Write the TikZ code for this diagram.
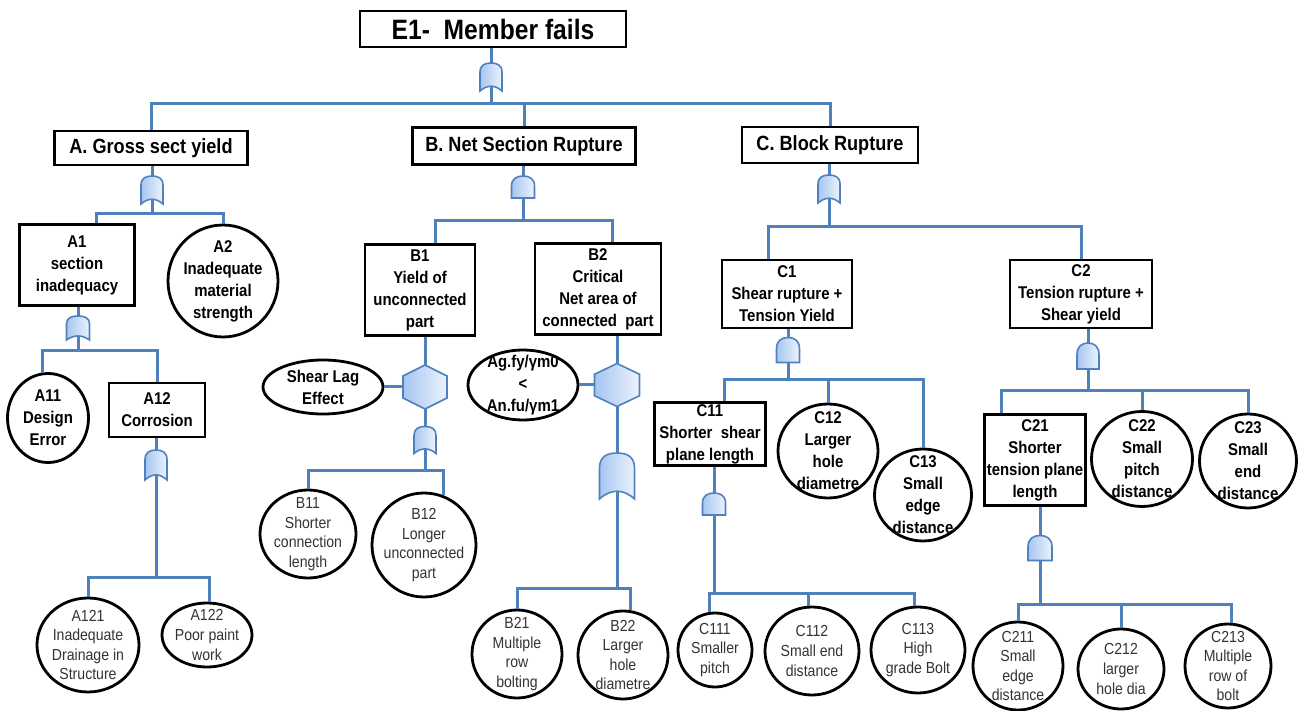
\documentclass[tikz,border=0pt]{standalone}
\usepackage{fontspec}
\setmainfont{Liberation Sans}[FakeStretch=0.88]
\usetikzlibrary{shapes.geometric}

\definecolor{cblue}{RGB}{79,129,189}
\definecolor{gdark}{RGB}{166,198,240}
\definecolor{glight}{RGB}{236,243,253}

\tikzset{
  conn/.style={draw=cblue, line width=1.5pt},
  gate/.style={draw=cblue, line width=0.8pt, left color=gdark, right color=glight},
  head/.style={draw, line width=1.4pt, rectangle, inner sep=0pt,
    font=\bfseries\fontsize{10.3}{12}\selectfont},
  evbox/.style={draw, line width=1.4pt, rectangle, inner sep=0pt, align=center,
    font=\bfseries\fontsize{8.5}{11}\selectfont},
  boldtxt/.style={align=center, inner sep=0pt, font=\bfseries\fontsize{8.5}{11}\selectfont},
  leaftxt/.style={align=center, inner sep=0pt, text=black!80, font=\fontsize{8}{9.8}\selectfont},
  evcirc/.style={draw, line width=1.4pt, ellipse, inner sep=0pt, label={[boldtxt]center:{#1}}},
  leaf/.style={draw, line width=1.4pt, ellipse, inner sep=0pt, label={[leaftxt]center:{#1}}},
  % OR gate: rounded top, concave bottom; #1 half width, #2 half height
  pics/orgate/.style 2 args={code={
    \path[gate] (-#1,#2) -- (-#1,-0.35*#2)
      .. controls (-#1,-0.85*#2) and (-0.55*#1,-#2) .. (0,-#2)
      .. controls (0.55*#1,-#2) and (#1,-0.85*#2) .. (#1,-0.35*#2)
      -- (#1,#2) .. controls (0.35*#1,0.55*#2) and (-0.35*#1,0.55*#2) .. (-#1,#2) -- cycle;
    \coordinate (-top) at (0,-#2);
    \coordinate (-bot) at (0,0.66*#2);
  }},
  % AND gate: dome top, flat bottom
  pics/andgate/.style 2 args={code={
    \path[gate] (-#1,#2) -- (-#1,-0.1*#2)
      .. controls (-#1,-0.75*#2) and (-0.55*#1,-#2) .. (0,-#2)
      .. controls (0.55*#1,-#2) and (#1,-0.75*#2) .. (#1,-0.1*#2)
      -- (#1,#2) -- cycle;
    \coordinate (-top) at (0,-#2);
    \coordinate (-bot) at (0,#2);
  }},
  % inhibit gate: hexagon with pointed top and bottom
  pics/hexgate/.style 2 args={code={
    \path[gate] (0,-#2) -- (#1,-0.5*#2) -- (#1,0.5*#2) -- (0,#2)
      -- (-#1,0.5*#2) -- (-#1,-0.5*#2) -- cycle;
    \coordinate (-top) at (0,-#2);
    \coordinate (-bot) at (0,#2);
    \coordinate (-west) at (-#1,0);
    \coordinate (-east) at (#1,0);
  }},
}

\begin{document}
\begin{tikzpicture}[x=0.5pt, y=-0.5pt]
\useasboundingbox (0,0) rectangle (1302,711);

% ---------- events ----------
\node[head, minimum width=133pt, minimum height=18pt,
      font=\bfseries\fontsize{14}{16}\selectfont] (E1) at (493,29) {E1-~ Member fails};
\node[head, minimum width=96.5pt, minimum height=17pt] (A) at (151,148) {A. Gross sect yield};
\node[head, minimum width=111.5pt, minimum height=18.5pt] (B) at (524,146) {B. Net Section Rupture};
\node[head, minimum width=88pt, minimum height=18pt] (C) at (830,145) {C. Block Rupture};

% A branch
\node[evbox, minimum width=57.5pt, minimum height=40.5pt] (A1) at (77,265) {A1\\section\\inadequacy};
\node[evcirc={A2\\Inadequate\\material\\strength}, minimum width=55pt, minimum height=56pt] (A2) at (223,281) {};
\node[evcirc={A11\\Design\\Error}, minimum width=40.5pt, minimum height=44.5pt] (A11) at (48,418) {};
\node[evbox, minimum width=48pt, minimum height=27pt] (A12) at (157,410) {A12\\Corrosion};
\node[leaf={A121\\Inadequate\\Drainage in\\Structure}, minimum width=51pt, minimum height=47pt] (A121) at (88,645) {};
\node[leaf={A122\\Poor paint\\work}, minimum width=45pt, minimum height=32pt] (A122) at (207,635) {};

% B branch
\node[evbox, minimum width=55pt, minimum height=45.5pt] (B1) at (420,290) {B1\\Yield of\\unconnected\\part};
\node[evbox, minimum width=63pt, minimum height=45.5pt] (B2) at (598,289) {B2\\Critical\\Net area of\\connected~ part};
\node[evcirc={Shear Lag\\Effect}, minimum width=60pt, minimum height=27pt] (SL) at (323,387) {};
\node[evcirc={Ag.fy/γm0\\<\\An.fu/γm1}, minimum width=55pt, minimum height=35pt] (AG) at (523,385) {};
\node[leaf={B11\\Shorter\\connection\\length}, minimum width=48pt, minimum height=44pt] (B11) at (308,534) {};
\node[leaf={B12\\Longer\\unconnected\\part}, minimum width=52pt, minimum height=52pt] (B12) at (424,545) {};
\node[leaf={B21\\Multiple\\row\\bolting}, minimum width=45pt, minimum height=44pt] (B21) at (517,654) {};
\node[leaf={B22\\Larger\\hole\\diametre}, minimum width=45pt, minimum height=44pt] (B22) at (623,655) {};

% C branch
\node[evbox, minimum width=65pt, minimum height=34pt] (C1) at (787,294) {C1\\Shear rupture +\\Tension Yield};
\node[evbox, minimum width=71pt, minimum height=34pt] (C2) at (1081,294) {C2\\Tension rupture +\\Shear yield};
\node[evbox, minimum width=55.5pt, minimum height=31.5pt] (C11) at (710,434) {C11\\Shorter~ shear\\plane length};
\node[evcirc={C12\\Larger\\hole\\diametre}, minimum width=50pt, minimum height=47pt] (C12) at (828,451) {};
\node[evcirc={C13\\Small\\edge\\distance}, minimum width=48.5pt, minimum height=46pt] (C13) at (923,495) {};
\node[leaf={C111\\Smaller\\pitch}, minimum width=37pt, minimum height=37pt] (C111) at (715,650) {};
\node[leaf={C112\\Small end\\distance}, minimum width=47pt, minimum height=44pt] (C112) at (812,651) {};
\node[leaf={C113\\High\\grade Bolt}, minimum width=47pt, minimum height=43pt] (C113) at (918,650) {};
\node[evbox, minimum width=50.5pt, minimum height=45.5pt] (C21) at (1035,460) {C21\\Shorter\\tension plane\\length};
\node[evcirc={C22\\Small\\pitch\\distance}, minimum width=50.5pt, minimum height=47.5pt] (C22) at (1142,459) {};
\node[evcirc={C23\\Small\\end\\distance}, minimum width=48.5pt, minimum height=47pt] (C23) at (1248,461) {};
\node[leaf={C211\\Small\\edge\\distance}, minimum width=45pt, minimum height=44pt] (C211) at (1018,666) {};
\node[leaf={C212\\larger\\hole dia}, minimum width=43pt, minimum height=40pt] (C212) at (1121,669) {};
\node[leaf={C213\\Multiple\\row of\\bolt}, minimum width=43pt, minimum height=42pt] (C213) at (1228,666) {};

% ---------- gates ----------
\pic (g0)   at (491,77)  {orgate={11}{14}};
\pic (gA)   at (152,190) {orgate={11}{14}};
\pic (gA1)  at (78,328)  {orgate={11.5}{12}};
\pic (gA12) at (156,465) {orgate={11}{15}};
\pic (gB)   at (523,187) {andgate={11.5}{11}};
\pic (hB1)  at (425,387) {hexgate={22}{22}};
\pic (gB1)  at (425,440) {orgate={11}{13.5}};
\pic (hB2)  at (617,385) {hexgate={22.5}{21.5}};
\pic (gB2)  at (617,476) {orgate={17.5}{23}};
\pic (gC)   at (829,189) {orgate={11}{14}};
\pic (gC1)  at (788,350) {andgate={11.5}{12.5}};
\pic (gC11) at (714,504) {andgate={11.5}{11}};
\pic (gC2)  at (1088,356) {andgate={11}{13}};
\pic (gC21) at (1040,548) {andgate={12}{12.5}};

% ---------- bus levels ----------
\coordinate (yE)   at (0,104);
\coordinate (yA)   at (0,214);
\coordinate (yA1)  at (0,351);
\coordinate (yA12) at (0,577);
\coordinate (yB)   at (0,221);
\coordinate (yB1)  at (0,470);
\coordinate (yB2)  at (0,588);
\coordinate (yC)   at (0,227);
\coordinate (yC1)  at (0,380);
\coordinate (yC11) at (0,593);
\coordinate (yC2)  at (0,391);
\coordinate (yC21) at (0,604);

% entry points off the box centres
\coordinate (A1in)  at ([xshift=9.5pt]A1.north);
\coordinate (B1in)  at ([xshift=7.5pt]B1.north);
\coordinate (B2in)  at ([xshift=7pt]B2.north);
\coordinate (C1in)  at ([xshift=-9.5pt]C1.north);
\coordinate (C11in) at ([xshift=7pt]C11.north);
\coordinate (C21in) at ([xshift=-17pt]C21.north);

% ---------- connectors ----------
% top event
\draw[conn] (g0-top |- E1.south) -- (g0-top);
\draw[conn] (g0-bot) |- (A.north |- yE) -- (A.north);
\draw[conn] (g0-bot) |- (B.north |- yE) -- (B.north);
\draw[conn] (g0-bot) |- (C.north |- yE) -- (C.north);

% A
\draw[conn] (gA-top |- A.south) -- (gA-top);
\draw[conn] (gA-bot) |- (A1in |- yA) -- (A1in);
\draw[conn] (gA-bot) |- (A2.north |- yA) -- (A2.north);
\draw[conn] (gA1-top |- A1.south) -- (gA1-top);
\draw[conn] (gA1-bot) |- (A11.97 |- yA1) -- (A11.97);
\draw[conn] (gA1-bot) |- (A12.north |- yA1) -- (A12.north);
\draw[conn] (gA12-top |- A12.south) -- (gA12-top);
\draw[conn] (gA12-bot) |- (A121.north |- yA12) -- (A121.north);
\draw[conn] (gA12-bot) |- (A122.86 |- yA12) -- (A122.86);

% B
\draw[conn] (gB-top |- B.south) -- (gB-top);
\draw[conn] (gB-bot) |- (B1in |- yB) -- (B1in);
\draw[conn] (gB-bot) |- (B2in |- yB) -- (B2in);
\draw[conn] (hB1-top |- B1.south) -- (hB1-top);
\draw[conn] (SL.east) -- (hB1-west);
\draw[conn] (hB1-bot) -- (gB1-top);
\draw[conn] (gB1-bot) |- (B11.north |- yB1) -- (B11.north);
\draw[conn] (gB1-bot) |- (B12.69 |- yB1) -- (B12.69);
\draw[conn] (hB2-top |- B2.south) -- (hB2-top);
\draw[conn] (AG.east) -- (hB2-west);
\draw[conn] (hB2-bot) -- (gB2-top);
\draw[conn] (gB2-bot) |- (B21.north |- yB2) -- (B21.north);
\draw[conn] (gB2-bot) |- (B22.81 |- yB2) -- (B22.81);

% C
\draw[conn] (gC-top |- C.south) -- (gC-top);
\draw[conn] (gC-bot) |- (C1in |- yC) -- (C1in);
\draw[conn] (gC-bot) |- (C2.north |- yC) -- (C2.north);
\draw[conn] (gC1-top |- C1.south) -- (gC1-top);
\draw[conn] (gC1-bot) |- (C11in |- yC1) -- (C11in);
\draw[conn] (gC1-bot) |- (C12.north |- yC1) -- (C12.north);
\draw[conn] (gC1-bot) |- (C13.north |- yC1) -- (C13.north);
\draw[conn] (gC11-top |- C11.south) -- (gC11-top);
\draw[conn] (gC11-bot) |- (C111.98 |- yC11) -- (C111.98);
\draw[conn] (gC11-bot) |- (C112.95 |- yC11) -- (C112.95);
\draw[conn] (gC11-bot) |- (C113.94 |- yC11) -- (C113.94);
\draw[conn] (gC2-top |- C2.south) -- (gC2-top);
\draw[conn] (gC2-bot) |- (C21in |- yC2) -- (C21in);
\draw[conn] (gC2-bot) |- (C22.north |- yC2) -- (C22.north);
\draw[conn] (gC2-bot) |- (C23.north |- yC2) -- (C23.north);
\draw[conn] (gC21-top |- C21.south) -- (gC21-top);
\draw[conn] (gC21-bot) |- (C211.north |- yC21) -- (C211.north);
\draw[conn] (gC21-bot) |- (C212.north |- yC21) -- (C212.north);
\draw[conn] (gC21-bot) |- (C213.86 |- yC21) -- (C213.86);
\end{tikzpicture}
\end{document}
